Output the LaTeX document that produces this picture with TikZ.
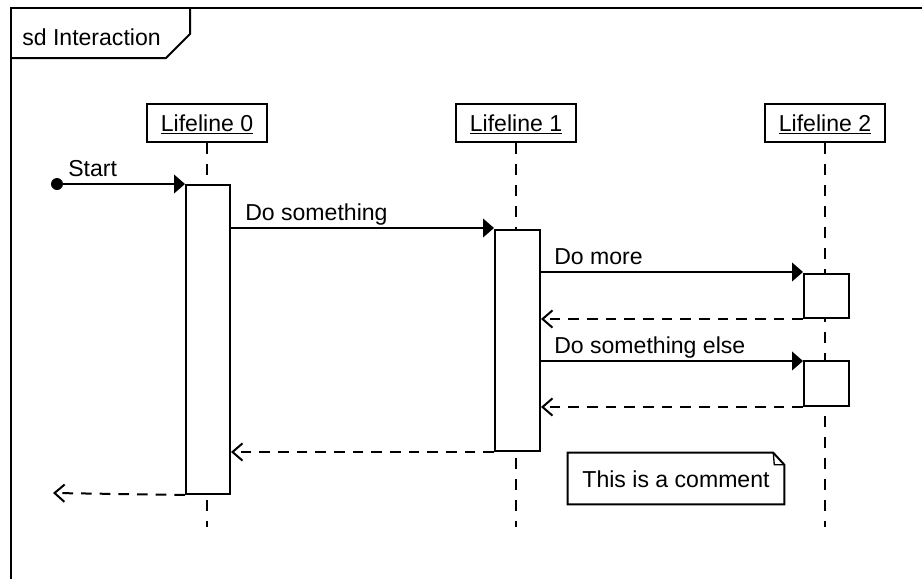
\documentclass[tikz,border=0pt]{standalone}
\usepackage{fontspec}
\setmainfont{Liberation Sans}
\usetikzlibrary{arrows.meta}

\tikzset{
  ln/.style={line width=1.5pt, line cap=butt, line join=miter},
  headbox/.style={ln, draw, fill=white, rectangle, inner sep=0pt,
    minimum width=90pt, minimum height=28.5pt, text height=14pt, text depth=2pt},
  actbox/.style={ln, draw, fill=white, rectangle, inner sep=0pt, anchor=north west},
  lifeline/.style={ln, dash pattern=on 8.25pt off 7.5pt},
  call/.style={ln, -{Triangle[length=8.25pt, width=14pt]}},
  ret/.style={ln, dash pattern=on 8pt off 6pt, -{Straight Barb[length=7.5pt, width=13pt]}},
  msglabel/.style={anchor=base west, inner sep=0pt},
  startdot/.style={circle, fill, minimum size=9pt, inner sep=0pt},
}

\begin{document}
\begin{tikzpicture}[x=0.75pt, y=-0.75pt, font=\fontsize{17.3pt}{20pt}\selectfont]
\useasboundingbox (0,0) rectangle (922,579);

% interaction frame and its name tab
\draw[ln] (11,579) -- (11,8) -- (922,8);
\draw[ln] (11,58) -- (166,58) -- (190,34) -- (190,8);
\node[msglabel] (frametitle) at (22,45) {sd Interaction};

% lifeline heads
\node[headbox] (L0) at (207,123) {\underline{Lifeline 0}};
\node[headbox] (L1) at (516,123) {\underline{Lifeline 1}};
\node[headbox] (L2) at (825,123) {\underline{Lifeline 2}};

% lifeline ends
\coordinate (E0) at (207,527);
\coordinate (E1) at (516,527);
\coordinate (E2) at (825,527);

\draw[lifeline] (L0.south) -- (E0);
\draw[lifeline] (L1.south) -- (E1);
\draw[lifeline] (L2.south) -- (E2);

% activation bars
\node[actbox, minimum width=33pt, minimum height=231.75pt] (A0) at (185,184) {};
\node[actbox, minimum width=33.75pt, minimum height=165.75pt] (A1) at (494,229) {};
\node[actbox, minimum width=33.75pt, minimum height=33pt] (A2) at (803,273) {};
\node[actbox, minimum width=33.75pt, minimum height=33.75pt] (A3) at (803,360) {};

% found message
\node[startdot] (start) at (57,184) {};
\draw[call] (start.center) -- (A0.north west);
\node[msglabel] (lstart) at (68,176) {Start};

% message levels
\coordinate (y1) at (0,228);
\coordinate (y2) at (0,272);
\coordinate (y3) at (0,361);

\draw[call] (A0.east |- y1) -- (A1.west |- y1);
\node[msglabel] (l1) at (245,220) {Do something};

\draw[call] (A1.east |- y2) -- (A2.west |- y2);
\node[msglabel] (l2) at (554,264) {Do more};
\draw[ret] (A2.south west) -- (A1.east |- A2.south);

\draw[call] (A1.east |- y3) -- (A3.west |- y3);
\node[msglabel] (l3) at (554,353) {Do something else};
\draw[ret] (A3.south west) -- (A1.east |- A3.south);

\draw[ret] (A1.south west) -- (A0.east |- A1.south);

\coordinate (lost) at (53,493);
\draw[ret] (A0.south west) -- (lost);

% comment note with folded corner
\node[inner sep=0pt, minimum width=162pt, minimum height=38.25pt,
      text height=15pt, text depth=1pt] (note) at (676,478.5) {This is a comment};
\draw[ln] (note.north west) -- ([xshift=-8.25pt]note.north east)
  -- ([yshift=-9pt]note.north east) -- (note.south east) -- (note.south west) -- cycle;
\draw[ln, line width=1pt] ([xshift=-8.25pt]note.north east)
  -- ([xshift=-7.5pt, yshift=-9pt]note.north east) -- ([yshift=-9pt]note.north east);
\end{tikzpicture}
\end{document}
